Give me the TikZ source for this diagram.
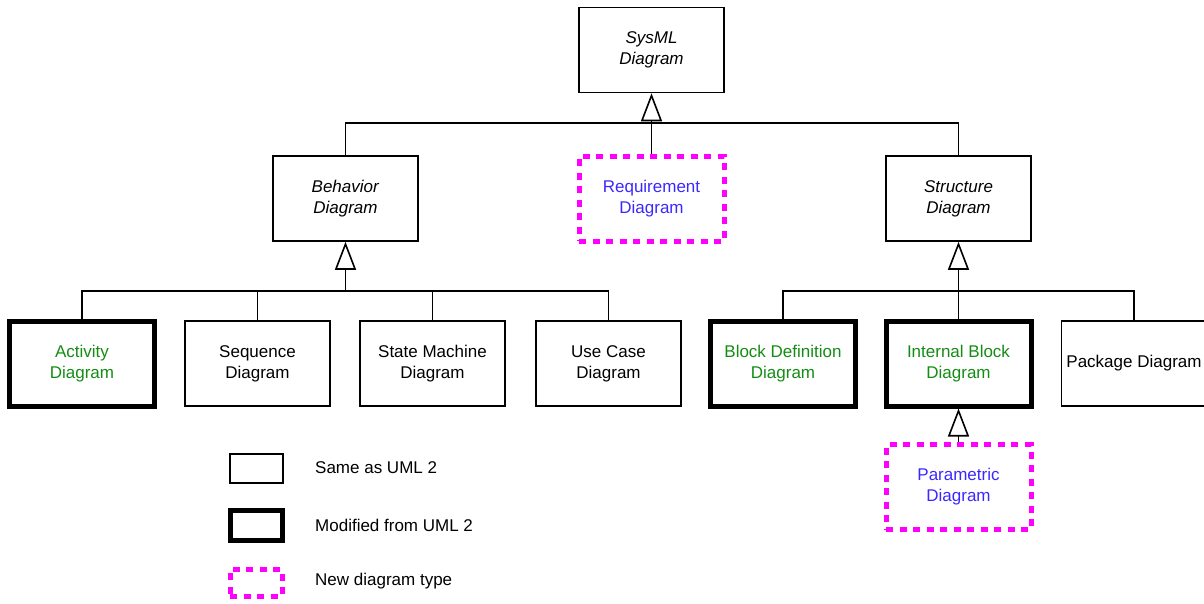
\documentclass[tikz,border=0pt]{standalone}
\usepackage{fontspec}
\setmainfont{Liberation Sans}
\usetikzlibrary{arrows.meta}
\definecolor{newmag}{RGB}{255,0,255}
\definecolor{modgreen}{RGB}{20,140,20}
\definecolor{newblue}{RGB}{60,40,255}
\begin{document}
\begin{tikzpicture}[x=1pt,y=-1pt,
  every node/.style={font=\fontsize{17}{21}\selectfont, inner sep=0pt, align=center},
  base/.style={draw=black, line width=1.6pt, minimum width=145pt, minimum height=85pt},
  samebox/.style={base},
  modbox/.style={base, line width=5pt, text=modgreen},
  newbox/.style={base, draw=newmag, line width=5pt, dash pattern=on 7pt off 6.5pt, text=newblue},
  conn/.style={draw=black, line width=1.6pt},
  gen/.style={conn, -{Triangle[open, width=21pt, length=28pt, line width=1.6pt]}},
  legtext/.style={anchor=west}
]
\useasboundingbox (0,0) rectangle (1204,603);

% top
\node[samebox] (sys) at (651.5,50) {\textit{SysML}\\\textit{Diagram}};
\node[samebox] (beh) at (345.5,198.5) {\textit{Behavior}\\\textit{Diagram}};
\node[newbox]  (req) at (651.5,198.5) {Requirement\\Diagram};
\node[samebox] (str) at (958.5,198.5) {\textit{Structure}\\\textit{Diagram}};

% behavior children
\node[modbox]  (act) at (82,363.5) {Activity\\Diagram};
\node[samebox] (seq) at (257.5,363.5) {Sequence\\Diagram};
\node[samebox] (stm) at (432.5,363.5) {State Machine\\Diagram};
\node[samebox] (uc)  at (608.5,363.5) {Use Case\\Diagram};

% structure children
\node[modbox]  (bdd) at (783,363.5) {Block Definition\\Diagram};
\node[modbox]  (ibd) at (958.5,363.5) {Internal Block\\Diagram};
\node[samebox] (pkg) at (1134,363.5) {Package Diagram};
\node[newbox]  (par) at (958.5,487) {Parametric\\Diagram};

% bus coordinates
\coordinate (topbus) at (651.5,123);
\coordinate (behbus) at (345.5,291);
\coordinate (strbus) at (958.5,291);

% top generalization
\draw[gen] (topbus) -- (sys.south);
\draw[conn] (beh.north) -- (beh.north |- topbus) -- (str.north |- topbus) -- (str.north);
\draw[conn] (req.north) -- (topbus);

% behavior generalization
\draw[gen] (behbus) -- (beh.south);
\draw[conn] (act.north) -- (act.north |- behbus) -- (uc.north |- behbus) -- (uc.north);
\draw[conn] (seq.north) -- (seq.north |- behbus);
\draw[conn] (stm.north) -- (stm.north |- behbus);

% structure generalization
\draw[gen] (strbus) -- (str.south);
\draw[conn] (bdd.north) -- (bdd.north |- strbus) -- (pkg.north |- strbus) -- (pkg.north);
\draw[conn] (ibd.north) -- (strbus);

% parametric
\draw[gen] (par.north) -- (ibd.south);

% legend
\node[samebox, minimum width=53pt, minimum height=29pt] (l1) at (256.5,468.5) {};
\node[modbox, minimum width=52pt, minimum height=30pt] (l2) at (256.5,525.5) {};
\node[newbox, minimum width=52pt, minimum height=27pt] (l3) at (256,582.5) {};
\node[legtext] (t1) at (315,468) {Same as UML 2};
\node[legtext] (t2) at (315,525) {Modified from UML 2};
\node[legtext] (t3) at (315,581) {New diagram type};
\end{tikzpicture}
\end{document}
